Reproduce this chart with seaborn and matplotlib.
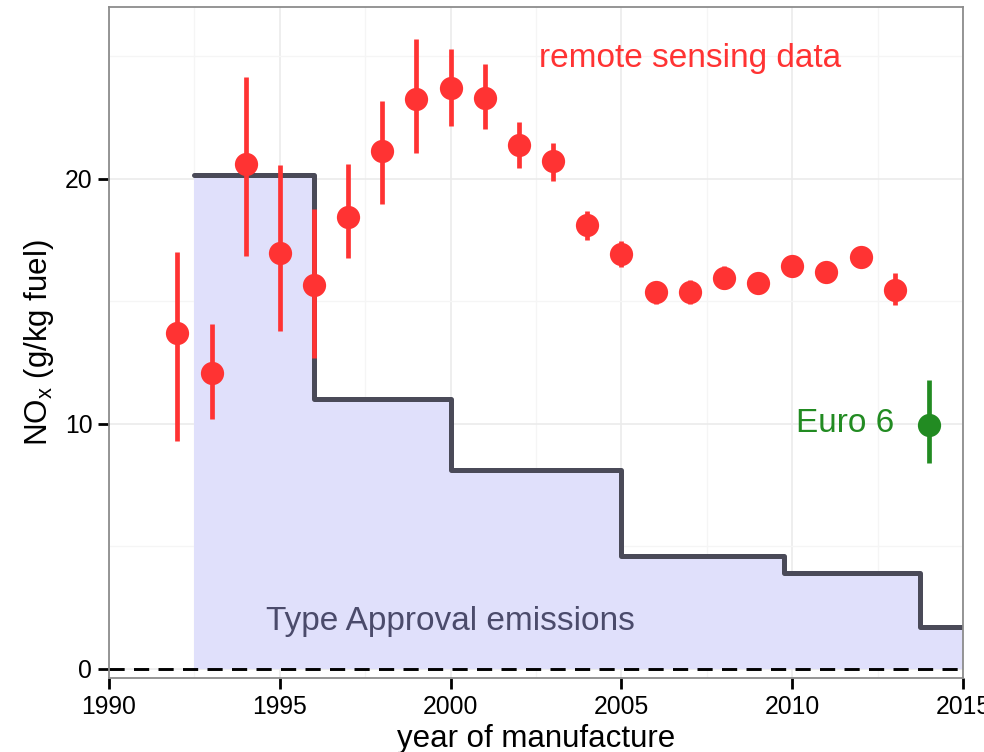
import numpy as np
import pandas as pd
import matplotlib
matplotlib.use('Agg')
import matplotlib.pyplot as plt
import seaborn as sns

# remote sensing data (year, mean NOx, error bar low / high)
years = [1992, 1993, 1994, 1995, 1996, 1997, 1998, 1999, 2000, 2001, 2002,
         2003, 2004, 2005, 2006, 2007, 2008, 2009, 2010, 2011, 2012, 2013]
nox = [13.7, 12.06, 20.6, 16.98, 15.68, 18.45, 21.14, 23.26, 23.7, 23.3, 21.38,
       20.7, 18.09, 16.92, 15.37, 15.37, 15.95, 15.75, 16.43, 16.2, 16.8, 15.45]
nox_lo = [9.3, 10.2, 16.86, 13.77, 12.67, 16.75, 18.98, 21.06, 22.16, 22.04, 20.45,
          19.92, 17.5, 16.39, 14.87, 14.9, 15.5, 15.4, 16.13, 15.9, 16.5, 14.85]
nox_hi = [17.0, 14.05, 24.15, 20.57, 18.78, 20.6, 23.18, 25.7, 25.3, 24.68, 22.3,
          21.47, 18.66, 17.45, 15.8, 15.85, 16.45, 16.1, 16.73, 16.5, 17.1, 16.15]

# Euro 6 point
euro6_year = [2014]
euro6_nox = [9.94]
euro6_lo = [8.39]
euro6_hi = [11.77]

# type approval step limits (start of each step, value)
ta_start = [1992.5, 1996, 2000, 2005, 2009.75, 2013.75, 2015]
ta_value = [20.16, 11.0, 8.1, 4.6, 3.9, 1.7, 1.7]

red = '#FF3333'
green = '#228B22'
dark = '#4A4A58'

sns.set_style('white')
plt.rcParams['font.family'] = ['Liberation Sans', 'DejaVu Sans']
plt.rcParams['mathtext.default'] = 'regular'

fig = plt.figure(figsize=(9.84, 7.52), dpi=100)
ax = fig.add_axes([0.1108, 0.0984, 0.8679, 0.8923])

# grid
for x in np.arange(1990, 2016, 5):
    ax.axvline(x, color='#EBEBEB', lw=1.2, zorder=0)
for x in np.arange(1992.5, 2015, 5):
    ax.axvline(x, color='#F5F5F5', lw=1.0, zorder=0)
for y in [0, 10, 20]:
    ax.axhline(y, color='#EBEBEB', lw=1.2, zorder=0)
for y in [5, 15, 25]:
    ax.axhline(y, color='#F5F5F5', lw=1.0, zorder=0)

# type approval
ax.fill_between(ta_start, 0, ta_value, step='post', color='#E0E0FB', lw=0, zorder=1)
ax.step(ta_start, ta_value, where='post', color=dark, lw=3.6, zorder=2)
ax.axhline(0, color='black', lw=2.1, ls=(0, (5.2, 3.2)), zorder=2)

# remote sensing points
df = pd.DataFrame({'year': years, 'nox': nox, 'lo': nox_lo, 'hi': nox_hi})
ax.vlines(df['year'], df['lo'], df['hi'], color=red, lw=3.4, zorder=3)
sns.scatterplot(data=df, x='year', y='nox', color=red, s=280, linewidth=0,
                ax=ax, zorder=4)

e6 = pd.DataFrame({'year': euro6_year, 'nox': euro6_nox})
ax.vlines(euro6_year, euro6_lo, euro6_hi, color=green, lw=3.4, zorder=3)
sns.scatterplot(data=e6, x='year', y='nox', color=green, s=280, linewidth=0,
                ax=ax, zorder=4)

ax.text(2007.0, 24.9, 'remote sensing data', color=red, fontsize=24,
        ha='center', va='center')
ax.text(2013.0, 10.0, 'Euro 6', color=green, fontsize=24, ha='right', va='center')
ax.text(2000.0, 1.95, 'Type Approval emissions', color='#4B4B6B', fontsize=24,
        ha='center', va='center')

ax.set_xlim(1990, 2015)
ax.set_ylim(-0.37, 27)
ax.set_xticks([1990, 1995, 2000, 2005, 2010, 2015])
ax.set_yticks([0, 10, 20])
ax.tick_params(axis='both', direction='out', length=8, width=2, color='black',
               labelsize=17.8, labelcolor='black', pad=4,
               bottom=True, left=True)
for s in ax.spines.values():
    s.set_color('#8C8C8C')
    s.set_linewidth(1.3)

ax.set_xlabel('year of manufacture', fontsize=22.5, labelpad=3.5, color='black')
ax.set_ylabel('NO$_x$ (g/kg fuel)', fontsize=22.5, labelpad=6.5, color='black')

fig.savefig('out.png', dpi=100)
